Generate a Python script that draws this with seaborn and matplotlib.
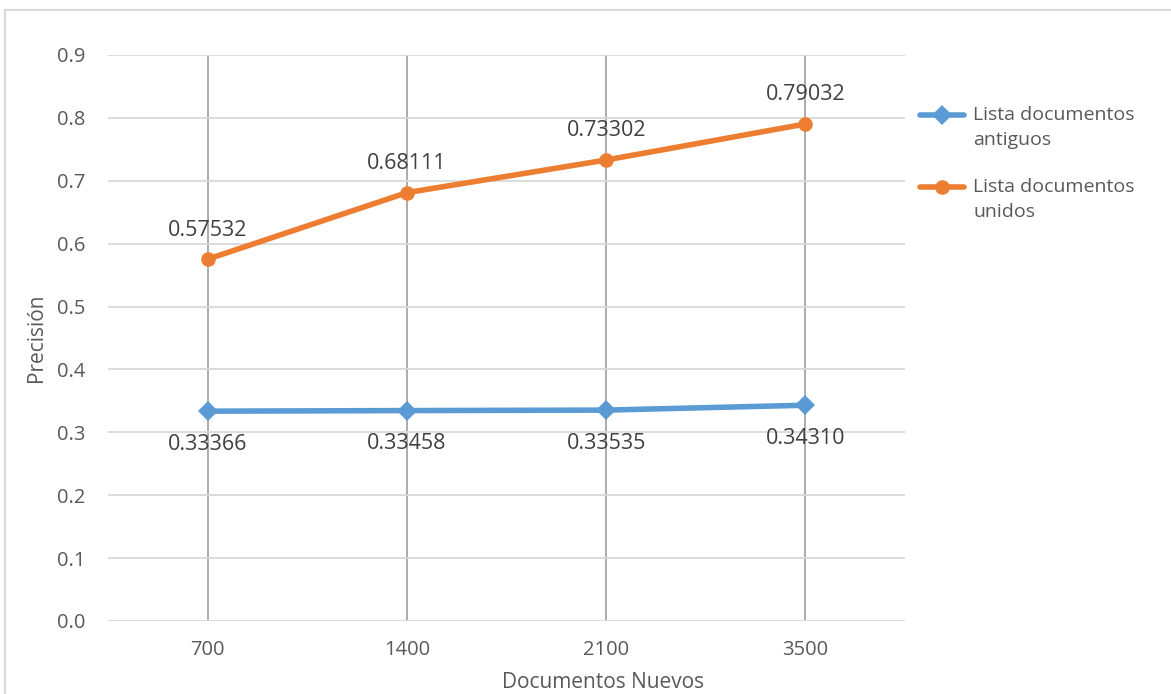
import numpy as np
import pandas as pd
import matplotlib
matplotlib.use("Agg")
import matplotlib.pyplot as plt
from matplotlib.patches import Rectangle
from matplotlib.legend_handler import HandlerLine2D
import seaborn as sns

# Data
documentos = ["700", "1400", "2100", "3500"]
antiguos = [0.33366, 0.33458, 0.33535, 0.34310]
unidos = [0.57532, 0.68111, 0.73302, 0.79032]
serie_antiguos = "Lista documentos\nantiguos"
serie_unidos = "Lista documentos\nunidos"
yticks = [0.0, 0.1, 0.2, 0.3, 0.4, 0.5, 0.6, 0.7, 0.8, 0.9]

df = pd.DataFrame({
    "Documentos": documentos * 2,
    "Precision": antiguos + unidos,
    "Serie": [serie_antiguos] * len(documentos) + [serie_unidos] * len(documentos),
})

sns.set_theme(style="white")
plt.rcParams["font.family"] = ["Open Sans", "DejaVu Sans"]

BLUE = "#5b9bd5"
ORANGE = "#ed7d31"
TXT = "#595959"
LBL = "#404040"
FS_TICK = 14.5
FS_LBL = 15.5
FS_TITLE = 15
FS_LEG = 14

fig = plt.figure(figsize=(11.71, 6.94), dpi=100)
ax = fig.add_axes([108 / 1171, 1 - 621 / 694, 797 / 1171, 566 / 694])

sns.lineplot(
    data=df, x="Documentos", y="Precision", hue="Serie", style="Serie",
    palette={serie_antiguos: BLUE, serie_unidos: ORANGE},
    markers={serie_antiguos: "D", serie_unidos: "o"},
    dashes=False, linewidth=4.0, markersize=10.5, markeredgewidth=0,
    solid_capstyle="round", solid_joinstyle="round",
    legend=False, ax=ax, zorder=3,
)

ax.set_xlim(-0.5, len(documentos) - 0.5)
ax.set_ylim(0, 0.9)
ax.set_yticks(yticks)
ax.set_yticklabels([f"{v:.1f}" for v in yticks])
ax.set_xticks(range(len(documentos)))
ax.set_xticklabels(documentos)

for s in ax.spines.values():
    s.set_visible(False)
ax.tick_params(axis="both", length=0, labelsize=FS_TICK, colors=TXT)
ax.tick_params(axis="y", pad=16)
ax.tick_params(axis="x", pad=14)

# Gridlines: light horizontal, darker vertical at each category
ax.grid(False)
ax.yaxis.grid(True, color="#d9d9d9", linewidth=1.3)
ax.xaxis.grid(True, color="#a6a6a6", linewidth=1.3)
ax.set_axisbelow(True)

# Value labels
for i, v in enumerate(unidos):
    ax.annotate(f"{v:.5f}", (i, v), xytext=(0, 21), textcoords="offset points",
                ha="center", va="center", fontsize=FS_LBL, color=LBL, zorder=4)
for i, v in enumerate(antiguos):
    ax.annotate(f"{v:.5f}", (i, v), xytext=(0, -24), textcoords="offset points",
                ha="center", va="center", fontsize=FS_LBL, color=LBL, zorder=4)

ax.set_xlabel("Documentos Nuevos", fontsize=FS_TITLE, color=TXT)
ax.xaxis.set_label_coords((603 - 108) / 797, -(682 - 621) / 566)
ax.xaxis.label.set_va("center")
ax.set_ylabel("Precisión", fontsize=FS_TITLE, color=TXT)
ax.yaxis.set_label_coords(-(108 - 37) / 797, 0.5)
ax.yaxis.label.set_va("center")


class RaisedLineHandler(HandlerLine2D):
    """Line handler whose sample sits on the first text line of a two-line label."""

    def __init__(self, lift, **kw):
        super().__init__(**kw)
        self.lift = lift

    def create_artists(self, legend, orig_handle, xdescent, ydescent, width,
                       height, fontsize, trans):
        arts = super().create_artists(legend, orig_handle, xdescent, ydescent,
                                      width, height, fontsize, trans)
        for a in arts:
            a.set_ydata(np.asarray(a.get_ydata(), dtype=float) + self.lift)
        return arts


handles = ax.get_lines()[:2]
leg = fig.legend(
    handles, [serie_antiguos, serie_unidos],
    loc="upper left", bbox_to_anchor=(920 / 1171, 1 - 106 / 694),
    frameon=False, borderpad=0, borderaxespad=0, fontsize=FS_LEG,
    handlelength=2.25, handletextpad=0.5, labelspacing=1.5,
    labelcolor=TXT,
    handler_map={h: RaisedLineHandler(lift=9.4) for h in handles},
)
for t in leg.get_texts():
    t.set_linespacing(1.5)

# Chart-area border
fig.add_artist(Rectangle((5.5 / 1171, -0.05), 1.2, 1.05 - 9.5 / 694,
                         transform=fig.transFigure, fill=False,
                         edgecolor="#d9d9d9", linewidth=1.5))

fig.savefig("out.png", dpi=100, facecolor="white")
